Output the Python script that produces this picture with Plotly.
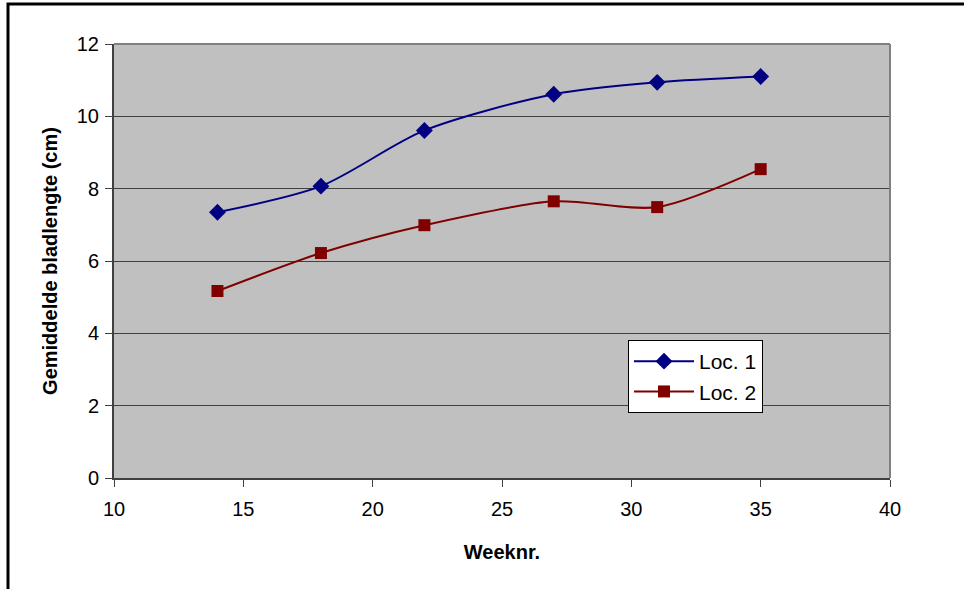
import plotly.graph_objects as go

weeks = [14, 18, 22, 27, 31, 35]
loc1 = [7.35, 8.07, 9.61, 10.61, 10.94, 11.1]
loc2 = [5.17, 6.22, 6.99, 7.65, 7.49, 8.54]

W, H = 964, 589
L, R, T, B = 114, 890, 44, 478

fig = go.Figure()
fig.add_trace(go.Scatter(x=weeks, y=loc1, name="Loc. 1", mode="lines+markers",
                         line=dict(color="#000080", width=2, shape="spline", smoothing=0.8),
                         marker=dict(symbol="diamond", size=13, color="#000080")))
fig.add_trace(go.Scatter(x=weeks, y=loc2, name="Loc. 2", mode="lines+markers",
                         line=dict(color="#800000", width=2, shape="spline", smoothing=0.8),
                         marker=dict(symbol="square", size=12, color="#800000")))

pw, ph = R - L, B - T
def px(x): return (x - L) / pw
def py(y): return (B - y) / ph

fig.update_layout(
    width=W, height=H,
    margin=dict(l=L, r=W - R, t=T, b=H - B),
    paper_bgcolor="white", plot_bgcolor="#C0C0C0",
    font=dict(family="Arial, Liberation Sans", size=20, color="black"),
    showlegend=True,
    legend=dict(x=px(628), y=py(340), xanchor="left", yanchor="top",
                bgcolor="white", bordercolor="black", borderwidth=1,
                font=dict(size=21), itemwidth=60, tracegroupgap=6),
    shapes=[
        dict(type="rect", xref="paper", yref="paper", x0=px(8), x1=px(1000), y0=py(620), y1=py(4),
             line=dict(color="black", width=3), layer="below"),
        dict(type="line", xref="paper", yref="paper", x0=0, x1=1, y0=1, y1=1,
             line=dict(color="#808080", width=2)),
        dict(type="line", xref="paper", yref="paper", x0=1, x1=1, y0=0, y1=1,
             line=dict(color="#808080", width=2)),
    ],
)
fig.update_xaxes(range=[10, 40], tickvals=[10, 15, 20, 25, 30, 35, 40], showgrid=False,
                 zeroline=False, showline=True, linecolor="#404040", linewidth=2,
                 ticks="outside", ticklen=7, tickcolor="#404040", ticklabelstandoff=5,
                 tickfont=dict(family="Arial, Liberation Sans", size=20, color="black"),
                 title=dict(text="<b>Weeknr.</b>", standoff=26, font=dict(size=20)))
fig.update_yaxes(range=[0, 12], tickvals=[0, 2, 4, 6, 8, 10, 12], showgrid=True,
                 gridcolor="#404040", gridwidth=1, zeroline=False, showline=True,
                 linecolor="#404040", linewidth=2, ticks="outside", ticklen=7, tickcolor="#404040",
                 ticklabelstandoff=2,
                 tickfont=dict(family="Arial, Liberation Sans", size=20, color="black"),
                 title=dict(text="<b>Gemiddelde bladlengte (cm)</b>", standoff=14, font=dict(size=20)))

fig.write_html("out.html")
